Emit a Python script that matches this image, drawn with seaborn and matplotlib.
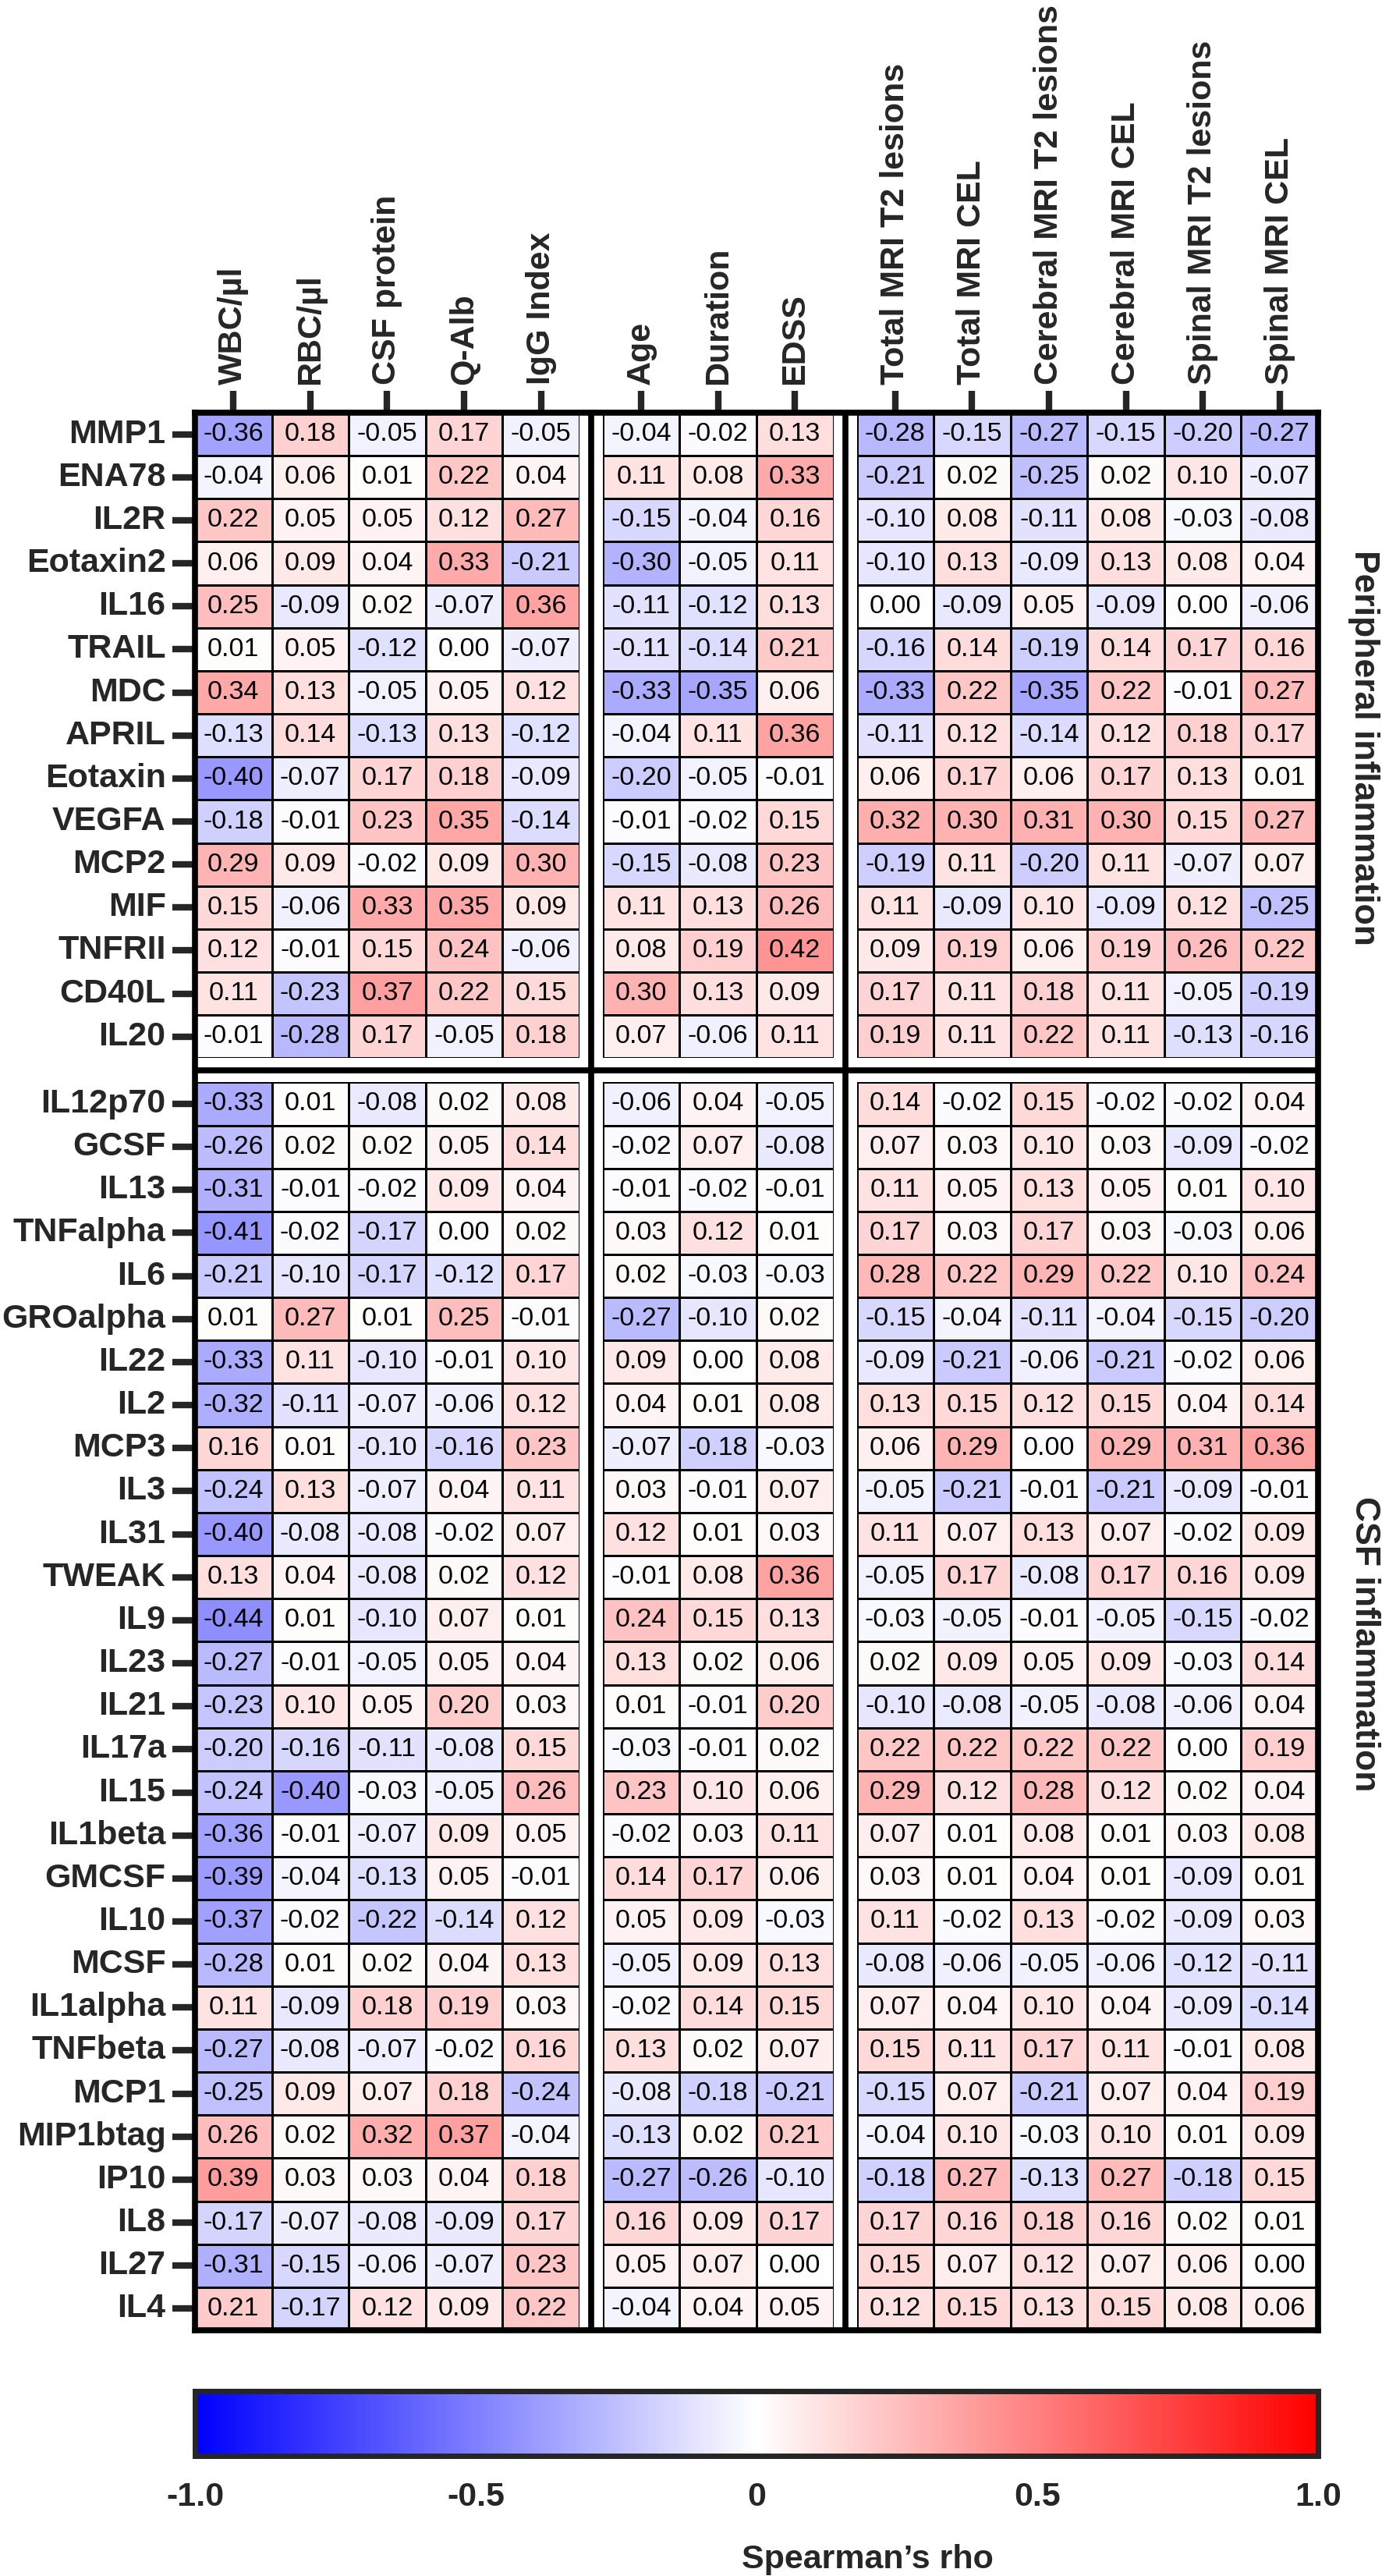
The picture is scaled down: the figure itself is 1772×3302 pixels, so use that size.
import numpy as np
import pandas as pd
import seaborn as sns
import matplotlib.pyplot as plt
from matplotlib.colors import LinearSegmentedColormap

# column groups
lab_cols = ['WBC/µl', 'RBC/µl', 'CSF protein', 'Q-Alb', 'IgG Index']
clin_cols = ['Age', 'Duration', 'EDSS']
mri_cols = ['Total MRI T2 lesions', 'Total MRI CEL', 'Cerebral MRI T2 lesions',
            'Cerebral MRI CEL', 'Spinal MRI T2 lesions', 'Spinal MRI CEL']

periph_rows = ['MMP1', 'ENA78', 'IL2R', 'Eotaxin2', 'IL16', 'TRAIL', 'MDC', 'APRIL',
               'Eotaxin', 'VEGFA', 'MCP2', 'MIF', 'TNFRII', 'CD40L', 'IL20']
csf_rows = ['IL12p70', 'GCSF', 'IL13', 'TNFalpha', 'IL6', 'GROalpha', 'IL22', 'IL2',
            'MCP3', 'IL3', 'IL31', 'TWEAK', 'IL9', 'IL23', 'IL21', 'IL17a', 'IL15',
            'IL1beta', 'GMCSF', 'IL10', 'MCSF', 'IL1alpha', 'TNFbeta', 'MCP1',
            'MIP1btag', 'IP10', 'IL8', 'IL27', 'IL4']

# spearman rho, one row per marker: lab(5) | clinical(3) | mri(6)
periph_vals = [
    [-0.36, 0.18, -0.05, 0.17, -0.05, -0.04, -0.02, 0.13, -0.28, -0.15, -0.27, -0.15, -0.20, -0.27],
    [-0.04, 0.06, 0.01, 0.22, 0.04, 0.11, 0.08, 0.33, -0.21, 0.02, -0.25, 0.02, 0.10, -0.07],
    [0.22, 0.05, 0.05, 0.12, 0.27, -0.15, -0.04, 0.16, -0.10, 0.08, -0.11, 0.08, -0.03, -0.08],
    [0.06, 0.09, 0.04, 0.33, -0.21, -0.30, -0.05, 0.11, -0.10, 0.13, -0.09, 0.13, 0.08, 0.04],
    [0.25, -0.09, 0.02, -0.07, 0.36, -0.11, -0.12, 0.13, 0.00, -0.09, 0.05, -0.09, 0.00, -0.06],
    [0.01, 0.05, -0.12, 0.00, -0.07, -0.11, -0.14, 0.21, -0.16, 0.14, -0.19, 0.14, 0.17, 0.16],
    [0.34, 0.13, -0.05, 0.05, 0.12, -0.33, -0.35, 0.06, -0.33, 0.22, -0.35, 0.22, -0.01, 0.27],
    [-0.13, 0.14, -0.13, 0.13, -0.12, -0.04, 0.11, 0.36, -0.11, 0.12, -0.14, 0.12, 0.18, 0.17],
    [-0.40, -0.07, 0.17, 0.18, -0.09, -0.20, -0.05, -0.01, 0.06, 0.17, 0.06, 0.17, 0.13, 0.01],
    [-0.18, -0.01, 0.23, 0.35, -0.14, -0.01, -0.02, 0.15, 0.32, 0.30, 0.31, 0.30, 0.15, 0.27],
    [0.29, 0.09, -0.02, 0.09, 0.30, -0.15, -0.08, 0.23, -0.19, 0.11, -0.20, 0.11, -0.07, 0.07],
    [0.15, -0.06, 0.33, 0.35, 0.09, 0.11, 0.13, 0.26, 0.11, -0.09, 0.10, -0.09, 0.12, -0.25],
    [0.12, -0.01, 0.15, 0.24, -0.06, 0.08, 0.19, 0.42, 0.09, 0.19, 0.06, 0.19, 0.26, 0.22],
    [0.11, -0.23, 0.37, 0.22, 0.15, 0.30, 0.13, 0.09, 0.17, 0.11, 0.18, 0.11, -0.05, -0.19],
    [-0.01, -0.28, 0.17, -0.05, 0.18, 0.07, -0.06, 0.11, 0.19, 0.11, 0.22, 0.11, -0.13, -0.16],
]
csf_vals = [
    [-0.33, 0.01, -0.08, 0.02, 0.08, -0.06, 0.04, -0.05, 0.14, -0.02, 0.15, -0.02, -0.02, 0.04],
    [-0.26, 0.02, 0.02, 0.05, 0.14, -0.02, 0.07, -0.08, 0.07, 0.03, 0.10, 0.03, -0.09, -0.02],
    [-0.31, -0.01, -0.02, 0.09, 0.04, -0.01, -0.02, -0.01, 0.11, 0.05, 0.13, 0.05, 0.01, 0.10],
    [-0.41, -0.02, -0.17, 0.00, 0.02, 0.03, 0.12, 0.01, 0.17, 0.03, 0.17, 0.03, -0.03, 0.06],
    [-0.21, -0.10, -0.17, -0.12, 0.17, 0.02, -0.03, -0.03, 0.28, 0.22, 0.29, 0.22, 0.10, 0.24],
    [0.01, 0.27, 0.01, 0.25, -0.01, -0.27, -0.10, 0.02, -0.15, -0.04, -0.11, -0.04, -0.15, -0.20],
    [-0.33, 0.11, -0.10, -0.01, 0.10, 0.09, 0.00, 0.08, -0.09, -0.21, -0.06, -0.21, -0.02, 0.06],
    [-0.32, -0.11, -0.07, -0.06, 0.12, 0.04, 0.01, 0.08, 0.13, 0.15, 0.12, 0.15, 0.04, 0.14],
    [0.16, 0.01, -0.10, -0.16, 0.23, -0.07, -0.18, -0.03, 0.06, 0.29, 0.00, 0.29, 0.31, 0.36],
    [-0.24, 0.13, -0.07, 0.04, 0.11, 0.03, -0.01, 0.07, -0.05, -0.21, -0.01, -0.21, -0.09, -0.01],
    [-0.40, -0.08, -0.08, -0.02, 0.07, 0.12, 0.01, 0.03, 0.11, 0.07, 0.13, 0.07, -0.02, 0.09],
    [0.13, 0.04, -0.08, 0.02, 0.12, -0.01, 0.08, 0.36, -0.05, 0.17, -0.08, 0.17, 0.16, 0.09],
    [-0.44, 0.01, -0.10, 0.07, 0.01, 0.24, 0.15, 0.13, -0.03, -0.05, -0.01, -0.05, -0.15, -0.02],
    [-0.27, -0.01, -0.05, 0.05, 0.04, 0.13, 0.02, 0.06, 0.02, 0.09, 0.05, 0.09, -0.03, 0.14],
    [-0.23, 0.10, 0.05, 0.20, 0.03, 0.01, -0.01, 0.20, -0.10, -0.08, -0.05, -0.08, -0.06, 0.04],
    [-0.20, -0.16, -0.11, -0.08, 0.15, -0.03, -0.01, 0.02, 0.22, 0.22, 0.22, 0.22, 0.00, 0.19],
    [-0.24, -0.40, -0.03, -0.05, 0.26, 0.23, 0.10, 0.06, 0.29, 0.12, 0.28, 0.12, 0.02, 0.04],
    [-0.36, -0.01, -0.07, 0.09, 0.05, -0.02, 0.03, 0.11, 0.07, 0.01, 0.08, 0.01, 0.03, 0.08],
    [-0.39, -0.04, -0.13, 0.05, -0.01, 0.14, 0.17, 0.06, 0.03, 0.01, 0.04, 0.01, -0.09, 0.01],
    [-0.37, -0.02, -0.22, -0.14, 0.12, 0.05, 0.09, -0.03, 0.11, -0.02, 0.13, -0.02, -0.09, 0.03],
    [-0.28, 0.01, 0.02, 0.04, 0.13, -0.05, 0.09, 0.13, -0.08, -0.06, -0.05, -0.06, -0.12, -0.11],
    [0.11, -0.09, 0.18, 0.19, 0.03, -0.02, 0.14, 0.15, 0.07, 0.04, 0.10, 0.04, -0.09, -0.14],
    [-0.27, -0.08, -0.07, -0.02, 0.16, 0.13, 0.02, 0.07, 0.15, 0.11, 0.17, 0.11, -0.01, 0.08],
    [-0.25, 0.09, 0.07, 0.18, -0.24, -0.08, -0.18, -0.21, -0.15, 0.07, -0.21, 0.07, 0.04, 0.19],
    [0.26, 0.02, 0.32, 0.37, -0.04, -0.13, 0.02, 0.21, -0.04, 0.10, -0.03, 0.10, 0.01, 0.09],
    [0.39, 0.03, 0.03, 0.04, 0.18, -0.27, -0.26, -0.10, -0.18, 0.27, -0.13, 0.27, -0.18, 0.15],
    [-0.17, -0.07, -0.08, -0.09, 0.17, 0.16, 0.09, 0.17, 0.17, 0.16, 0.18, 0.16, 0.02, 0.01],
    [-0.31, -0.15, -0.06, -0.07, 0.23, 0.05, 0.07, 0.00, 0.15, 0.07, 0.12, 0.07, 0.06, 0.00],
    [0.21, -0.17, 0.12, 0.09, 0.22, -0.04, 0.04, 0.05, 0.12, 0.15, 0.13, 0.15, 0.08, 0.06],
]

sns.set_style('white')
plt.rcParams['font.family'] = ['Liberation Sans', 'DejaVu Sans']

W, H = 1772, 3302
fig = plt.figure(figsize=(W / 100, H / 100), dpi=100)


def px_axes(x0, y0, x1, y1):
    # axes from pixel box (origin top-left)
    return fig.add_axes([x0 / W, 1 - y1 / H, (x1 - x0) / W, (y1 - y0) / H])


cmap = LinearSegmentedColormap.from_list('bwr_lin', ['#0000ff', '#ffffff', '#ff0000'])

left, right, top, bottom = 250, 1690, 529, 2987
colgap, rowgap = 30, 31
col_groups = [lab_cols, clin_cols, mri_cols]
row_groups = [(periph_rows, np.array(periph_vals)), (csf_rows, np.array(csf_vals))]
ncols = [len(c) for c in col_groups]
nrows = [len(r[0]) for r in row_groups]
cw = (right - left - 2 * colgap) / sum(ncols)
rh = (bottom - top - rowgap) / sum(nrows)

lab_fs = 31
cax = px_axes(250, 3065, 1690, 3148)
first_ax = None

for i, (rnames, vals) in enumerate(row_groups):
    y0 = top + sum(nrows[:i]) * rh + i * rowgap
    y1 = y0 + nrows[i] * rh
    for j, cnames in enumerate(col_groups):
        c0 = sum(ncols[:j])
        x0 = left + c0 * cw + j * colgap
        x1 = x0 + ncols[j] * cw
        ax = px_axes(x0, y0, x1, y1)
        df = pd.DataFrame(vals[:, c0:c0 + ncols[j]], index=rnames, columns=cnames)
        first = (i == 0 and j == 0)
        if first:
            first_ax = ax
        sns.heatmap(df, ax=ax, cmap=cmap, vmin=-1, vmax=1,
                    annot=True, fmt='.2f',
                    annot_kws={'fontsize': 24.5, 'color': 'black'},
                    linewidths=1.0, linecolor='black',
                    xticklabels=(i == 0), yticklabels=(j == 0),
                    cbar=first, cbar_ax=cax if first else None,
                    cbar_kws={'orientation': 'horizontal'} if first else None)
        if i == 0:
            ax.xaxis.tick_top()
            ax.set_xticklabels(cnames, rotation=90, fontsize=lab_fs, fontweight='bold')
            ax.tick_params(axis='x', top=True, bottom=False, labeltop=True,
                           labelbottom=False, length=20, width=6, pad=6)
        if j == 0:
            ax.set_yticklabels(rnames, rotation=0, fontsize=lab_fs, fontweight='bold')
            ax.tick_params(axis='y', left=True, length=21, width=6, pad=6)
        ax.set_xlabel('')
        ax.set_ylabel('')

# outer frame + thick separators between blocks
fa = px_axes(left, top, right, bottom)
fa.set_xlim(left, right)
fa.set_ylim(bottom, top)
fa.patch.set_alpha(0)
fa.set_xticks([])
fa.set_yticks([])
for s in fa.spines.values():
    s.set_visible(True)
    s.set_linewidth(5.5)
    s.set_color('black')
fa.axvline(left + ncols[0] * cw + colgap / 2, color='black', lw=5.5)
fa.axvline(left + (ncols[0] + ncols[1]) * cw + colgap * 1.5, color='black', lw=5.5)
fa.axhline(top + nrows[0] * rh + rowgap / 2, color='black', lw=5.5)

# group labels on the right
fig.text(1749 / W, 1 - 958 / H, 'Peripheral inflammation', rotation=270,
         ha='center', va='center', fontsize=32, fontweight='bold')
fig.text(1749 / W, 1 - 2107 / H, 'CSF inflammation', rotation=270,
         ha='center', va='center', fontsize=32, fontweight='bold')

# colorbar
cb = first_ax.collections[0].colorbar
cb.set_ticks([-1, -0.5, 0, 0.5, 1])
cb.set_ticklabels(['-1.0', '-0.5', '0', '0.5', '1.0'])
cb.outline.set_linewidth(5)
cax.tick_params(axis='x', direction='in', top=True, bottom=True, length=9,
                width=3.3, labelsize=lab_fs, pad=24)
for t in cax.get_xticklabels():
    t.set_fontweight('bold')
fig.text(1112 / W, 1 - 3281 / H, 'Spearman\u2019s rho', ha='center', va='center',
         fontsize=lab_fs, fontweight='bold')

fig.savefig('out.png', dpi=100)
